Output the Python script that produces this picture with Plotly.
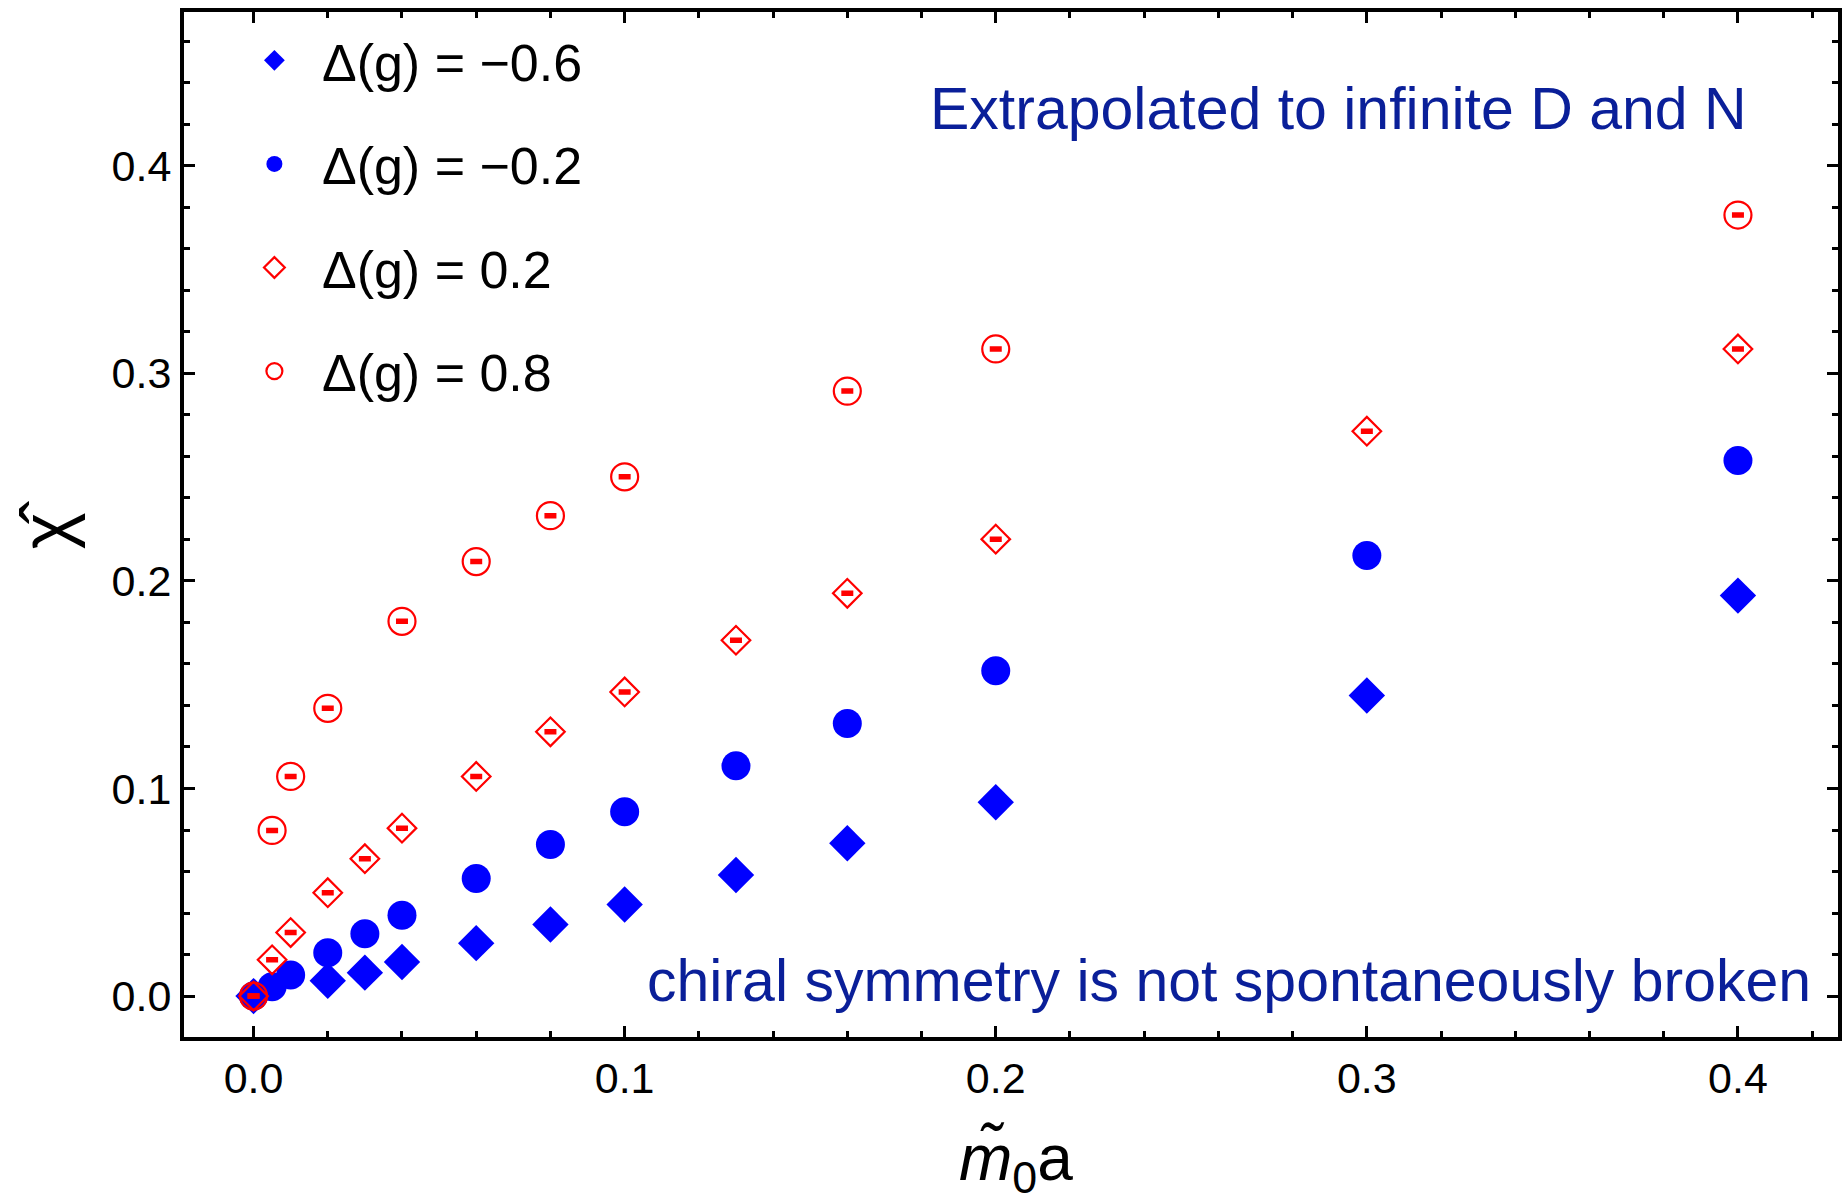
import plotly.graph_objects as go

# ---- data ----
x_m06 = [0.0, 0.02, 0.03, 0.04, 0.06, 0.08, 0.10, 0.13, 0.16, 0.20, 0.30, 0.40]
y_m06 = [0.0, 0.0074, 0.0113, 0.0164, 0.0255, 0.0345, 0.0441, 0.0583, 0.0736, 0.0934, 0.1448, 0.1929]

x_m02 = [0.0, 0.005, 0.01, 0.02, 0.03, 0.04, 0.06, 0.08, 0.10, 0.13, 0.16, 0.20, 0.30, 0.40]
y_m02 = [0.0, 0.0045, 0.0102, 0.0209, 0.0300, 0.0390, 0.0566, 0.0730, 0.0888, 0.1109, 0.1313, 0.1567, 0.2122, 0.2580]

x_p02 = [0.0, 0.005, 0.01, 0.02, 0.03, 0.04, 0.06, 0.08, 0.10, 0.13, 0.16, 0.20, 0.30, 0.40]
y_p02 = [0.0, 0.0175, 0.0306, 0.0498, 0.0662, 0.0809, 0.1058, 0.1273, 0.1465, 0.1714, 0.1940, 0.2201, 0.2721, 0.3117]

x_p08 = [0.0, 0.005, 0.01, 0.02, 0.04, 0.06, 0.08, 0.10, 0.16, 0.20, 0.40]
y_p08 = [0.0, 0.0798, 0.1058, 0.1386, 0.1805, 0.2093, 0.2314, 0.2501, 0.2914, 0.3117, 0.3762]

series_names = ["Δ(g) = −0.6", "Δ(g) = −0.2", "Δ(g) = 0.2", "Δ(g) = 0.8"]
x_ticks = [0.0, 0.1, 0.2, 0.3, 0.4]
y_ticks = [0.0, 0.1, 0.2, 0.3, 0.4]
red_err = 0.0006

FONT = "Liberation Sans, Arial, Helvetica, sans-serif"
BLUE = "#0000FF"
RED = "#FF0000"
TXT_BLUE = "#0a1f99"

W, H = 1842, 1201
L, R, T, B = 184, 0, 12, 164

fig = go.Figure()

fig.add_trace(go.Scatter(
    x=x_m06, y=y_m06, mode="markers", name=series_names[0], legendgroup="a",
    marker=dict(symbol="diamond", size=28, color=BLUE, line=dict(width=0)),
))
fig.add_trace(go.Scatter(
    x=x_m02, y=y_m02, mode="markers", name=series_names[1], legendgroup="b",
    marker=dict(symbol="circle", size=29, color=BLUE, line=dict(width=0)),
))
fig.add_trace(go.Scatter(
    x=x_p02, y=y_p02, mode="markers", name=series_names[2], legendgroup="c",
    marker=dict(symbol="diamond-open", size=22, color=RED, line=dict(width=2.2, color=RED)),
    error_y=dict(type="constant", value=red_err, color=RED, thickness=3, width=6),
))
fig.add_trace(go.Scatter(
    x=x_p08, y=y_p08, mode="markers", name=series_names[3], legendgroup="d",
    marker=dict(symbol="circle-open", size=27, color=RED, line=dict(width=2.2, color=RED)),
    error_y=dict(type="constant", value=red_err, color=RED, thickness=3, width=6),
))

axis_common = dict(
    showgrid=False, zeroline=False, showline=True, linecolor="black", linewidth=4,
    mirror="allticks", ticks="inside", ticklen=11, tickwidth=3, tickcolor="black",
    tickfont=dict(family=FONT, size=43, color="black"), tickformat=".1f",
)

fig.update_xaxes(
    range=[-0.01874, 0.42696], tickvals=x_ticks, **axis_common,
    minor=dict(dtick=0.02, tick0=0, ticks="inside", ticklen=6, tickwidth=3, tickcolor="black"),
)
fig.update_yaxes(
    range=[-0.0197, 0.474], tickvals=y_ticks, **axis_common,
    minor=dict(dtick=0.02, tick0=0, ticks="inside", ticklen=6, tickwidth=3, tickcolor="black"),
)

pw = W - L - R
ph = H - T - B

def px2paper_x(px):
    return (px - L) / pw

def px2paper_y(py):
    return (H - B - py) / ph

fig.add_annotation(
    text="Extrapolated to infinite D and N", xref="paper", yref="paper",
    x=px2paper_x(1753), y=px2paper_y(109), xanchor="right", yanchor="middle",
    showarrow=False, font=dict(family=FONT, size=59, color=TXT_BLUE),
)
fig.add_annotation(
    text="chiral symmetry is not spontaneously broken", xref="paper", yref="paper",
    x=px2paper_x(1817), y=px2paper_y(981), xanchor="right", yanchor="middle",
    showarrow=False, font=dict(family=FONT, size=59, color=TXT_BLUE),
)
fig.add_annotation(
    text="<i>m̃</i><sub>0</sub>a", xref="paper", yref="paper",
    x=px2paper_x(1018), y=px2paper_y(1162), xanchor="center", yanchor="middle",
    showarrow=False, font=dict(family=FONT, size=64, color="black"),
)
fig.add_annotation(
    text="χ̂", xref="paper", yref="paper", textangle=-90,
    x=px2paper_x(46), y=px2paper_y(525), xanchor="center", yanchor="middle",
    showarrow=False, font=dict(family=FONT, size=70, color="black"),
)

fig.update_layout(
    width=W, height=H, margin=dict(l=L, r=R, t=T, b=B, pad=0),
    paper_bgcolor="white", plot_bgcolor="white",
    showlegend=True,
    legend=dict(
        x=px2paper_x(227), y=px2paper_y(20), xanchor="left", yanchor="top",
        font=dict(family=FONT, size=52, color="black"),
        bgcolor="rgba(0,0,0,0)", borderwidth=0, tracegroupgap=33,
        itemwidth=85,
    ),
)

fig.write_html("out.html")
